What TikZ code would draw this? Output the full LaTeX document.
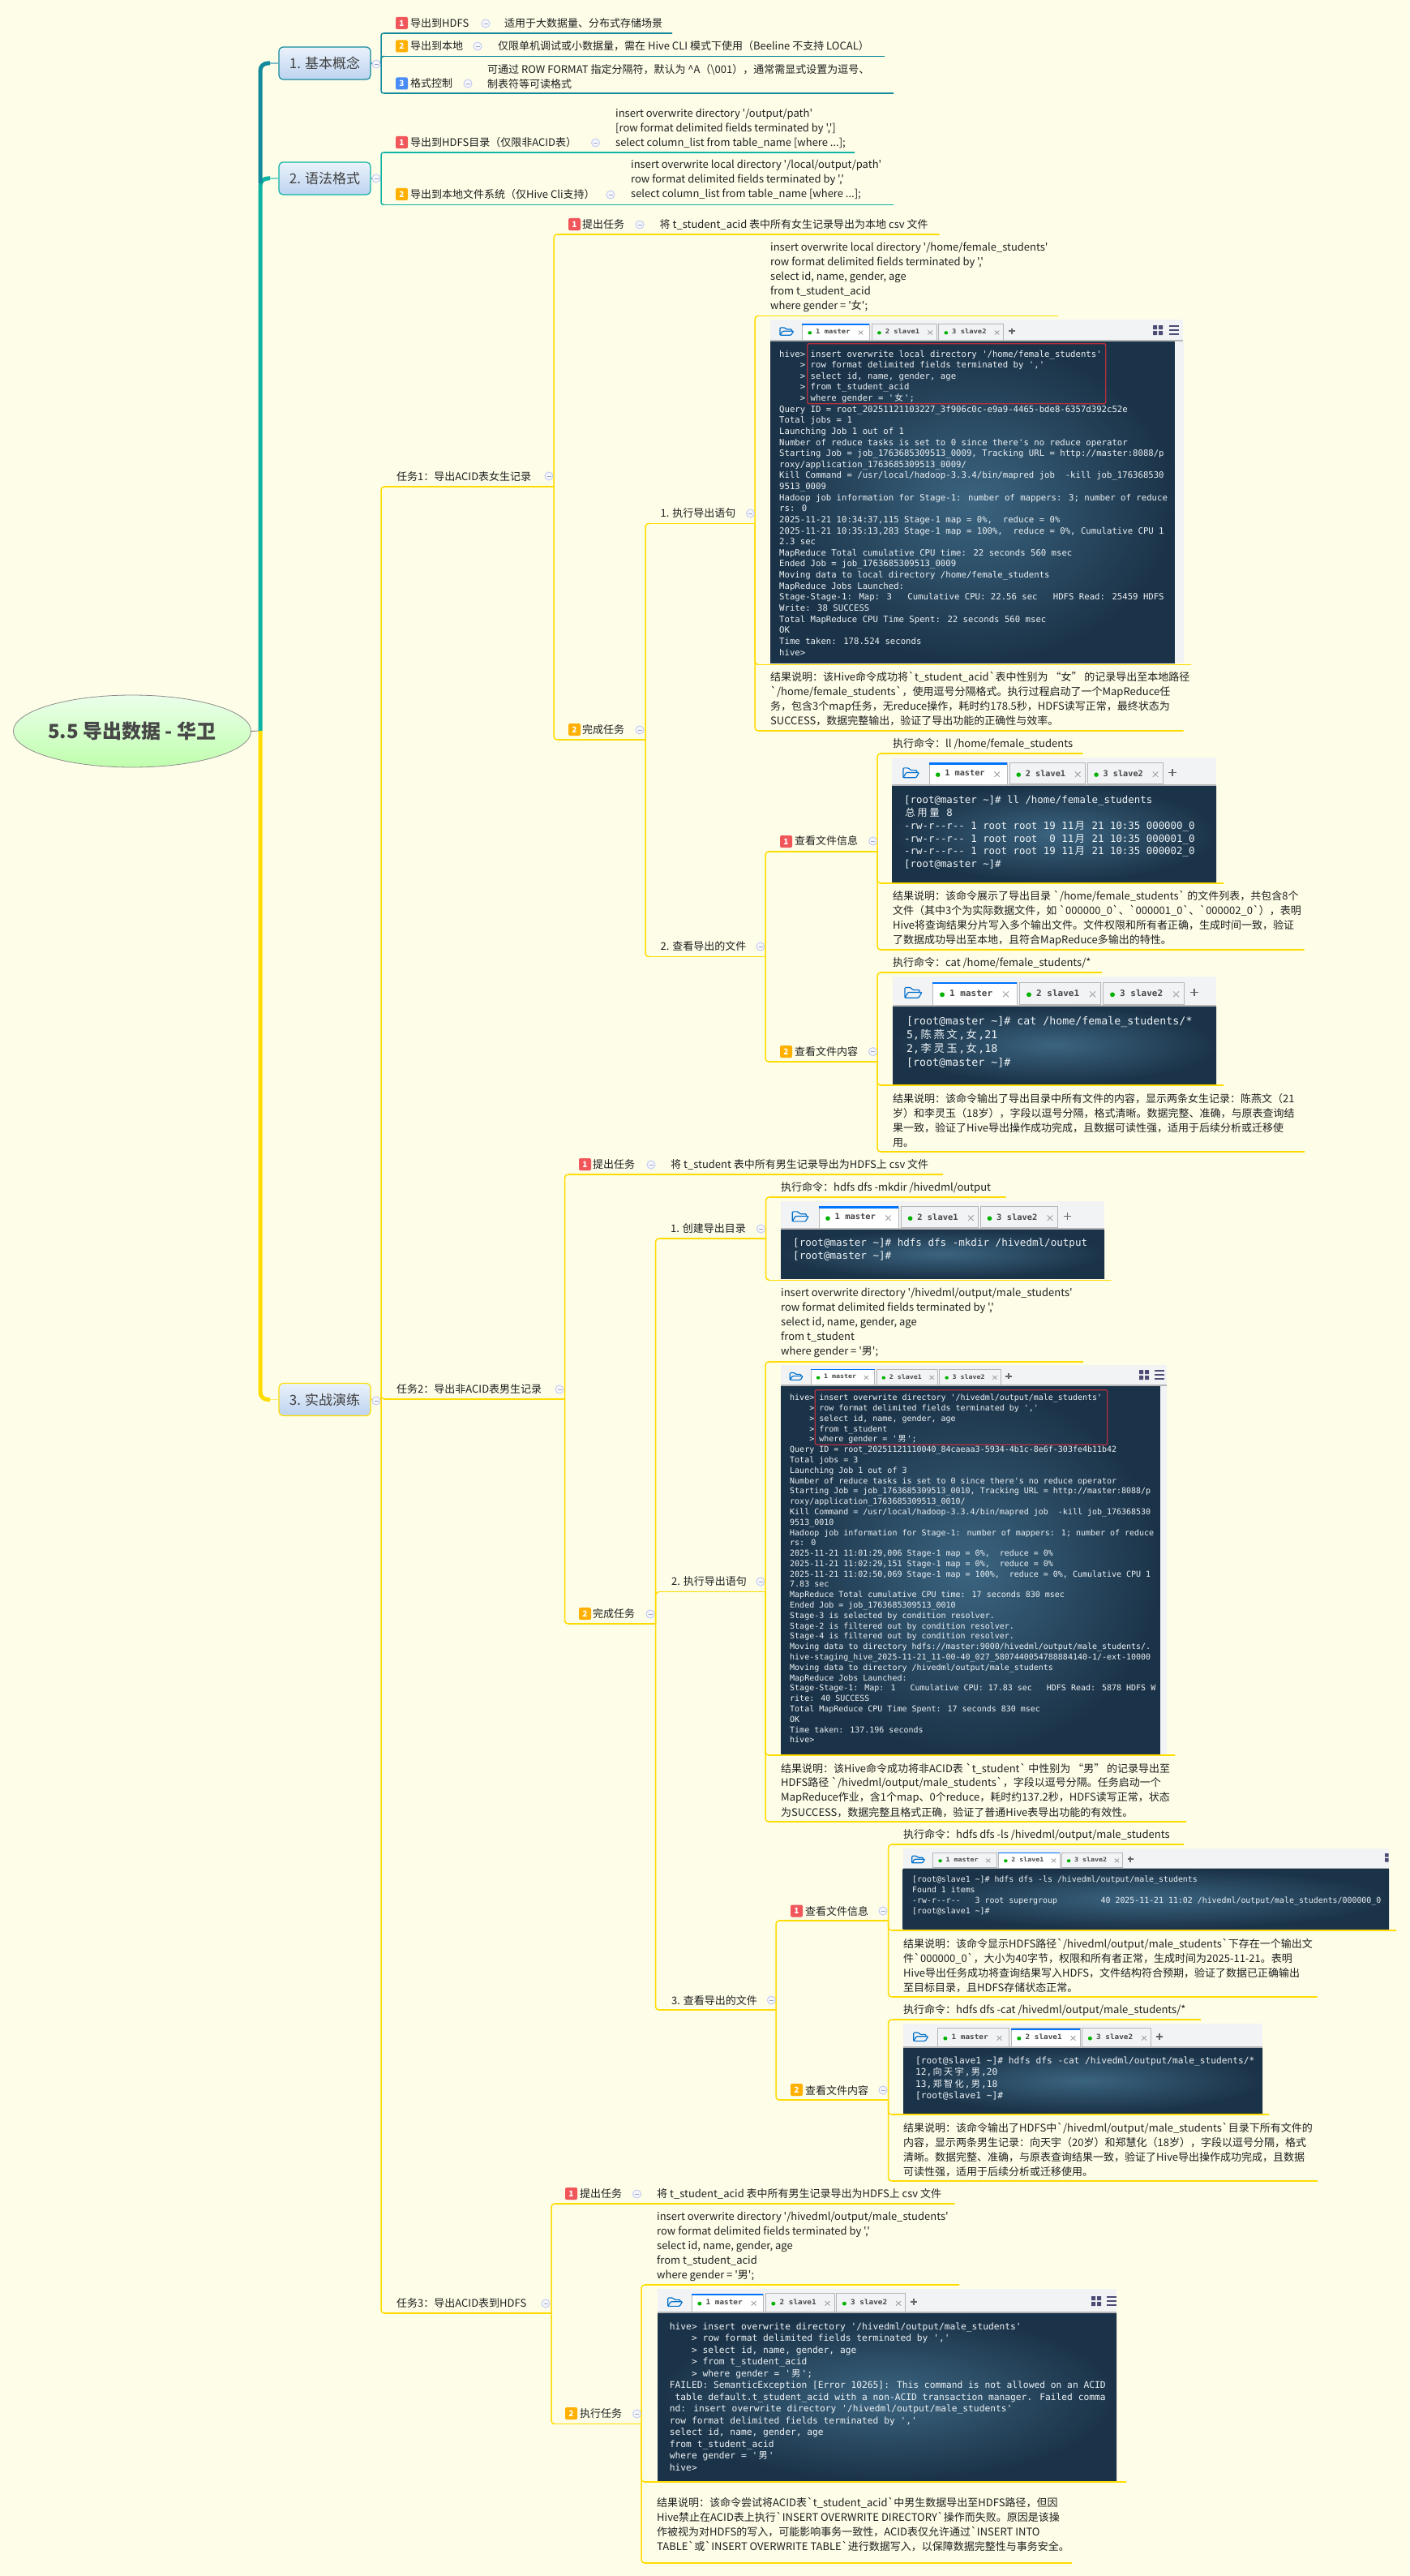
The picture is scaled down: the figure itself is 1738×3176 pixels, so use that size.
\documentclass[tikz,border=0pt]{standalone}
\usepackage{fontspec}
\usepackage{tikz}
\usetikzlibrary{shapes.geometric}
\newfontfamily\cnfont{Noto Sans CJK SC}
\newfontfamily\termfont{DejaVu Sans Mono}
\definecolor{paper}{HTML}{FEFDE8}
\definecolor{tealdark}{HTML}{128A9C}
\definecolor{tealmid}{HTML}{0DB3A3}
\definecolor{lineyel}{HTML}{FFDC00}
\definecolor{badgered}{HTML}{F0565A}
\definecolor{badgeorg}{HTML}{FFB000}
\definecolor{badgeblue}{HTML}{4A8CF5}
\definecolor{foldblue}{HTML}{C3CDF0}
\definecolor{tabbar}{HTML}{F2F3F5}
\definecolor{tabedge}{HTML}{B4B6B8}
\definecolor{termtxt}{HTML}{EEF3F6}
\definecolor{screenin}{HTML}{3B6480}
\definecolor{screenout}{HTML}{1B3348}
\definecolor{boxtop}{HTML}{EAF2FB}
\definecolor{boxbot}{HTML}{BDD3F0}
\definecolor{redmark}{HTML}{B5303F}
\tikzset{
  rowa/.style={draw=tealdark,line width=1.5,inner sep=0,outer sep=0,minimum height=0,anchor=west},
  rowb/.style={rowa,draw=tealmid},
  rowy/.style={rowa,draw=lineyel},
  topic/.style={anchor=west,inner sep=0,align=left,text=black!88,font=\cnfont\fontsize{13}{18}\selectfont},
  mainbox/.style={draw=#1,line width=1.2,rounded corners=5,top color=boxtop,bottom color=boxbot,
    minimum width=113,minimum height=40,inner sep=0,text=black!75,font=\cnfont\fontsize{17}{20}\selectfont},
  badge/.style={fill=#1,rounded corners=2,minimum size=15,inner sep=0,text=white,font=\cnfont\bfseries\fontsize{10}{10}\selectfont},
  fold/.style={circle,draw=foldblue,fill=blue!3!white,line width=1,minimum size=10,inner sep=0,
    path picture={\draw[foldblue!80!black,line width=.8] (-2.5,0) -- (2.5,0);}},
  screen/.style={anchor=north west,inner sep=0,outer sep=0,inner color=screenin,outer color=screenout},
  termtext/.style 2 args={anchor=west,inner sep=0,align=left,text=termtxt,font=\termfont\fontsize{#1}{#2}\selectfont},
  redbox/.style={draw=redmark,line width=1.4,rounded corners=1.5,anchor=north west,inner sep=0},
  tablabel/.style={anchor=west,inner sep=0,text=black!72,font=\termfont\bfseries\fontsize{11}{11}\selectfont},
}
\newcommand{\cj}[1]{\makebox[1.204em]{\cnfont #1}}
\newcommand{\prm}[1]{[root@#1 \textasciitilde]\#}
% tab strip of a terminal shot: name, x, y, width, xscale, yscale, active tab
\newcommand{\termtabs}[7]{
  \begin{scope}[shift={(#2,#3)},xscale=#5,yscale=#6,transform shape]
    \fill[tabbar] (0,0) rectangle (#4/#5,36);
    \draw[tabedge,line width=1.8] (0,37) -- (#4/#5,37);
    \draw[blue!45!cyan!80!black,line width=1.2,rounded corners=1] (15,27) -- (15,14) -- (22,14) -- (25,17) -- (33,17) -- (33,20);
    \draw[blue!45!cyan!80!black,line width=1.2,rounded corners=1] (15,27) -- (19,20) -- (36,20) -- (32,27) -- cycle;
    \foreach \tx/\tw/\tn/\ti in {49/104/1 master/1,156/100/2 slave1/2,259/100/3 slave2/3}{
      \ifnum\ti=#7
        \node[fill=white,draw=tabedge,line width=.6,minimum width=\tw,minimum height=29,inner sep=0,anchor=north west] (#1tab\ti) at (\tx,7) {};
        \fill[blue!55!cyan] (\tx,7) rectangle (\tx+\tw,9.5);
      \else
        \node[fill=tabbar,draw=tabedge,line width=.8,minimum width=\tw,minimum height=28,inner sep=0,anchor=north west] (#1tab\ti) at (\tx,7) {};
      \fi
      \fill[green!70!black] (\tx+12,23) circle (3);
      \node[tablabel] (#1lab\ti) at (\tx+21,21) {\tn};
      \draw[black!40,line width=.8] (\tx+87,19) -- (\tx+94,26) (\tx+94,19) -- (\tx+87,26);
    }
    \draw[black!60,line width=1.8] (367,20) -- (377,20) (372,15) -- (372,25);
  \end{scope}
}
% grid and list icons at the right end of the strip
\newcommand{\termmenu}[3]{
  \fill[black!60!blue!40!gray] (#1-6,#2-6) rectangle (#1-1,#2-1) (#1+1,#2-6) rectangle (#1+6,#2-1)
    (#1-6,#2+1) rectangle (#1-1,#2+6) (#1+1,#2+1) rectangle (#1+6,#2+6);
  \draw[black!60!blue!40!gray,line width=1.2] (#1+#3-6,#2-5) -- (#1+#3+6,#2-5) (#1+#3-6,#2) -- (#1+#3+6,#2) (#1+#3-6,#2+5) -- (#1+#3+6,#2+5);
}
\begin{document}
\catcode`\_=12
\begin{tikzpicture}[x=1pt,y=-1pt]
\fill[paper] (0,0) rectangle (1738,3176);
\useasboundingbox (0,0) rectangle (1738,3176);

% root and spine
\node[ellipse,draw=black!45,line width=.8,top color=green!8!white,bottom color=green!70!lime!32!white,minimum width=293,minimum height=89,inner sep=0,
  text=black!72,font=\cnfont\bfseries\fontsize{24}{28}\selectfont] (root) at (163,901.5) {5.5 导出数据 - 华卫};
\node[mainbox=tealdark] (n1) at (400.5,78) {1. 基本概念};
\node[mainbox=tealmid] (n2) at (400.5,220) {2. 语法格式};
\node[mainbox=lineyel] (n3) at (400.5,1725.5) {3. 实战演练};
\coordinate (hub) at (321,901);
\coordinate (k1) at (333,78);
\coordinate (k2) at (333,220);
\coordinate (k2up) at (321,226);
\coordinate (k3) at (333,1725.5);
\draw[black!55,line width=.8] (root.east) -- (hub);
\draw[tealmid,line width=5,rounded corners=9] (hub) |- (k2);
\draw[tealdark,line width=5,rounded corners=9] (k2up) |- (k1);
\draw[lineyel,line width=5,rounded corners=9] (hub) |- (k3);
\draw[tealdark!55,line width=1.5] (k1) -- (n1.west);
\draw[tealmid!55,line width=1.5] (k2) -- (n2.west);
\draw[lineyel!55,line width=1.5] (k3) -- (n3.west);

% underlines of all branches
\node[rowa,minimum width=355] (a1) at (474,41) {};
\node[rowa,minimum width=617] (a2) at (474,69.5) {};
\node[rowa,minimum width=628] (a3) at (474,115) {};
\node[rowb,minimum width=580] (b1) at (474,188) {};
\node[rowb,minimum width=628] (b2) at (474,252.5) {};
\node[rowy,minimum width=209] (t1) at (474,600) {};
\node[rowy,minimum width=222.5] (t2) at (474,1725) {};
\node[rowy,minimum width=206] (t3) at (474,2852) {};
\node[rowy,minimum width=471.5] (t1a) at (687,289) {};
\node[rowy,minimum width=109] (t1b) at (687,912) {};
\node[rowy,minimum width=131] (e1) at (800,645.5) {};
\node[rowy,minimum width=144] (e2) at (800,1179.6) {};
\node[rowy,minimum width=370] (e1a) at (935,389.5) {};
\node[rowy,minimum width=534] (e1b) at (935,819.4) {};
\node[rowy,minimum width=524.5] (e1c) at (935,901) {};
\node[rowy,minimum width=134] (e2a) at (948,1050) {};
\node[rowy,minimum width=134] (e2b) at (948,1309) {};
\node[rowy,minimum width=249.5] (f1a) at (1086,929) {};
\node[rowy,minimum width=423] (f1b) at (1086,1089) {};
\node[rowy,minimum width=522.5] (f1c) at (1086,1171) {};
\node[rowy,minimum width=273] (f2a) at (1086,1199) {};
\node[rowy,minimum width=423] (f2b) at (1086,1338) {};
\node[rowy,minimum width=523] (f2c) at (1086,1420) {};
\node[rowy,minimum width=462.5] (t2a) at (700.5,1448) {};
\node[rowy,minimum width=108] (t2b) at (700.5,2002) {};
\node[rowy,minimum width=132] (g1) at (812.6,1527) {};
\node[rowy,minimum width=131.4] (g2) at (812.6,1962.7) {};
\node[rowy,minimum width=144.4] (g3) at (812.6,2478) {};
\node[rowy,minimum width=292] (g1a) at (948.6,1476) {};
\node[rowy,minimum width=422] (g1b) at (948.6,1578.3) {};
\node[rowy,minimum width=388] (g2a) at (948,1679) {};
\node[rowy,minimum width=501] (g2b) at (948,2164) {};
\node[rowy,minimum width=515] (g2c) at (948,2246) {};
\node[rowy,minimum width=134.6] (g3a) at (961,2368) {};
\node[rowy,minimum width=134.6] (g3b) at (961,2589) {};
\node[rowy,minimum width=360.4] (h1a) at (1099.6,2274) {};
\node[rowy,minimum width=622.4] (h1b) at (1099.6,2380) {};
\node[rowy,minimum width=525] (h1c) at (1099.6,2462) {};
\node[rowy,minimum width=381.4] (h2a) at (1099.6,2490) {};
\node[rowy,minimum width=465.4] (h2b) at (1099.6,2607) {};
\node[rowy,minimum width=525.4] (h2c) at (1099.6,2689) {};
\node[rowy,minimum width=493.6] (t3a) at (684,2717) {};
\node[rowy,minimum width=107] (t3b) at (684,2988.5) {};
\node[rowy,minimum width=388] (k1r) at (795,2817) {};
\node[rowy,minimum width=594] (k2r) at (795,3060) {};
\node[rowy,minimum width=527] (k3r) at (795,3160) {};

% brackets
\coordinate (n1r) at (470,78);
\coordinate (n2r) at (470,220);
\coordinate (n3r) at (470,1725);
\draw[tealdark,line width=1.5] (n1.east) -- (n1r);
\draw[tealmid,line width=1.5] (n2.east) -- (n2r);
\draw[lineyel,line width=1.5] (n3.east) -- (n3r);
\foreach \c in {a1,a2,a3} \draw[tealdark,line width=1.5,rounded corners=3] (n1r) |- (\c.west);
\foreach \c in {b1,b2} \draw[tealmid,line width=1.5,rounded corners=3] (n2r) |- (\c.west);
\foreach \c in {t1,t2,t3} \draw[lineyel,line width=1.5,rounded corners=4] (n3r) |- (\c.west);
\foreach \p/\c in {t1/t1a,t1/t1b,t1b/e1,t1b/e2,e1/e1a,e1/e1b,e1/e1c,e2/e2a,e2/e2b,e2a/f1a,e2a/f1b,e2a/f1c,e2b/f2a,e2b/f2b,e2b/f2c,
  t2/t2a,t2/t2b,t2b/g1,t2b/g2,t2b/g3,g1/g1a,g1/g1b,g2/g2a,g2/g2b,g2/g2c,g3/g3a,g3/g3b,g3a/h1a,g3a/h1b,g3a/h1c,g3b/h2a,g3b/h2b,g3b/h2c,
  t3/t3a,t3/t3b,t3b/k1r,t3b/k2r,t3b/k3r}
  \draw[lineyel,line width=1.5,rounded corners=4] (\p.east) |- (\c.west);

% 1. and 2.
\node[badge=badgered] (a1n) at (495.5,28.5) {1};
\node[topic] (a1l) at (506,29) {导出到HDFS};
\node[topic] (a1t) at (622,29) {适用于大数据量、分布式存储场景};
\node[badge=badgeorg] (a2n) at (495.5,57) {2};
\node[topic] (a2l) at (506,57) {导出到本地};
\node[topic] (a2t) at (614,57) {仅限单机调试或小数据量，需在 Hive CLI 模式下使用（Beeline 不支持 LOCAL）};
\node[badge=badgeblue] (a3n) at (495.5,103) {3};
\node[topic] (a3l) at (506,103) {格式控制};
\node[topic] (a3t) at (601,94.5) {可通过 ROW FORMAT 指定分隔符，默认为 \textasciicircum A（\textbackslash 001），通常需显式设置为逗号、\\制表符等可读格式};
\node[badge=badgered] (b1n) at (495.5,175.5) {1};
\node[topic] (b1l) at (506,176) {导出到HDFS目录（仅限非ACID表）};
\node[topic] (b1t) at (759,159) {insert overwrite directory '/output/path'\\{[}row format delimited fields terminated by ',']\\select column_list from table_name [where ...];};
\node[badge=badgeorg] (b2n) at (495.5,239.5) {2};
\node[topic] (b2l) at (506,240) {导出到本地文件系统（仅Hive Cli支持）};
\node[topic] (b2t) at (778,222) {insert overwrite local directory '/local/output/path'\\row format delimited fields terminated by ','\\select column_list from table_name [where ...];};

% task 1
\node[topic] (t1l) at (489,588) {任务1：导出ACID表女生记录};
\node[badge=badgered] (t1an) at (708.5,276.5) {1};
\node[topic] (t1al) at (718,277) {提出任务};
\node[topic] (t1at) at (813.5,277) {将 t_student_acid 表中所有女生记录导出为本地 csv 文件};
\node[badge=badgeorg] (t1bn) at (708.5,899.5) {2};
\node[topic] (t1bl) at (718,900) {完成任务};
\node[topic] (e1l) at (814.5,633) {1. 执行导出语句};
\node[topic] (e1at) at (950,341.5) {insert overwrite local directory '/home/female_students'\\row format delimited fields terminated by ','\\select id, name, gender, age\\from t_student_acid\\where gender = '女';};
\termtabs{shota}{950}{394}{509}{.8}{.71}{1}
\termmenu{1428}{407}{20}
\node[screen,minimum width=499,minimum height=396] (shotab) at (950,421) {};
\fill[tabbar] (1449,421) rectangle (1459.5,817);
\node[termtext={10.65}{13.63}] (shotat) at (961,620) {hive> insert overwrite local directory '/home/female_students'\\~~~~> row format delimited fields terminated by ','\\~~~~> select id, name, gender, age\\~~~~> from t_student_acid\\~~~~> where gender = '\cj{女}';\\Query ID = root_20251121103227_3f906c0c-e9a9-4465-bde8-6357d392c52e\\Total jobs = 1\\Launching Job 1 out of 1\\Number of reduce tasks is set to 0 since there's no reduce operator\\Starting Job = job_1763685309513_0009, Tracking URL = http://master:8088/p\\roxy/application_1763685309513_0009/\\Kill Command = /usr/local/hadoop-3.3.4/bin/mapred job~~-kill job_176368530\\9513_0009\\Hadoop job information for Stage-1: number of mappers: 3; number of reduce\\rs: 0\\2025-11-21 10:34:37,115 Stage-1 map = 0\%,~~reduce = 0\%\\2025-11-21 10:35:13,283 Stage-1 map = 100\%,~~reduce = 0\%, Cumulative CPU 1\\2.3 sec\\MapReduce Total cumulative CPU time: 22 seconds 560 msec\\Ended Job = job_1763685309513_0009\\Moving data to local directory /home/female_students\\MapReduce Jobs Launched:\\Stage-Stage-1: Map: 3~~~Cumulative CPU: 22.56 sec~~~HDFS Read: 25459 HDFS\\Write: 38 SUCCESS\\Total MapReduce CPU Time Spent: 22 seconds 560 msec\\OK\\Time taken: 178.524 seconds\\hive>};
\node[redbox,minimum width=368,minimum height=74] (shotared) at (995,423) {};
\node[topic] (e1ct) at (950,862) {结果说明：该Hive命令成功将`t_student_acid`表中性别为 “女” 的记录导出至本地路径\\`/home/female_students`，使用逗号分隔格式。执行过程启动了一个MapReduce任\\务，包含3个map任务，无reduce操作，耗时约178.5秒，HDFS读写正常，最终状态为\\SUCCESS，数据完整输出，验证了导出功能的正确性与效率。};
\node[topic] (e2l) at (814.5,1167) {2. 查看导出的文件};
\node[badge=badgered] (e2an) at (969.5,1037.5) {1};
\node[topic] (e2al) at (980,1037) {查看文件信息};
\node[topic] (f1at) at (1101,917) {执行命令：ll /home/female_students};
\termtabs{shotb}{1100}{934}{400}{.93}{.92}{1}
\node[screen,minimum width=400,minimum height=118] (shotbb) at (1100,969) {};
\node[termtext={12.4}{15.8}] (shotbt) at (1115,1026.5) {\prm{master} ll /home/female_students\\\cj{总}\cj{用}\cj{量} 8\\-rw-r--r-- 1 root root 19 11\cj{月} 21 10:35 000000_0\\-rw-r--r-- 1 root root~~0 11\cj{月} 21 10:35 000001_0\\-rw-r--r-- 1 root root 19 11\cj{月} 21 10:35 000002_0\\\prm{master}};
\node[topic] (f1ct) at (1101,1132) {结果说明：该命令展示了导出目录 `/home/female_students` 的文件列表，共包含8个\\文件（其中3个为实际数据文件，如 `000000_0`、`000001_0`、`000002_0`），表明\\Hive将查询结果分片写入多个输出文件。文件权限和所有者正确，生成时间一致，验证\\了数据成功导出至本地，且符合MapReduce多输出的特性。};
\node[badge=badgeorg] (e2bn) at (969.5,1296.5) {2};
\node[topic] (e2bl) at (980,1296.5) {查看文件内容};
\node[topic] (f2at) at (1101,1187) {执行命令：cat /home/female_students/*};
\termtabs{shotc}{1101}{1204}{399}{1}{.97}{1}
\node[screen,minimum width=399,minimum height=95] (shotcb) at (1101,1241) {};
\node[termtext={13.3}{17.2}] (shotct) at (1118,1285) {\prm{master} cat /home/female_students/*\\5,\cj{陈}\cj{燕}\cj{文},\cj{女},21\\2,\cj{李}\cj{灵}\cj{玉},\cj{女},18\\\prm{master}};
\node[topic] (f2ct) at (1101,1381) {结果说明：该命令输出了导出目录中所有文件的内容，显示两条女生记录：陈燕文（21\\岁）和李灵玉（18岁），字段以逗号分隔，格式清晰。数据完整、准确，与原表查询结\\果一致，验证了Hive导出操作成功完成，且数据可读性强，适用于后续分析或迁移使\\用。};

% task 2
\node[topic] (t2l) at (489,1713) {任务2：导出非ACID表男生记录};
\node[badge=badgered] (t2an) at (721.5,1435.5) {1};
\node[topic] (t2al) at (731,1436) {提出任务};
\node[topic] (t2at) at (827,1436) {将 t_student 表中所有男生记录导出为HDFS上 csv 文件};
\node[badge=badgeorg] (t2bn) at (721.5,1989.5) {2};
\node[topic] (t2bl) at (731,1990) {完成任务};
\node[topic] (g1l) at (827,1515) {1. 创建导出目录};
\node[topic] (g1at) at (963,1464) {执行命令：hdfs dfs -mkdir /hivedml/output};
\termtabs{shotd}{963}{1481}{399}{.95}{.92}{1}
\node[screen,minimum width=399,minimum height=60] (shotdb) at (963,1516) {};
\node[termtext={12.56}{16}] (shotdt) at (978,1541) {\prm{master} hdfs dfs -mkdir /hivedml/output\\\prm{master}};
\node[topic] (g2l) at (828,1950) {2. 执行导出语句};
\node[topic] (g2at) at (963,1631) {insert overwrite directory '/hivedml/output/male_students'\\row format delimited fields terminated by ','\\select id, name, gender, age\\from t_student\\where gender = '男';};
\termtabs{shote}{963}{1683}{476}{.755}{.68}{1}
\termmenu{1411}{1695}{19}
\node[screen,minimum width=468,minimum height=453.5] (shoteb) at (963,1709) {};
\fill[tabbar] (1431,1709) rectangle (1439,2162.5);
\node[termtext={9.99}{12.79}] (shotet) at (974,1934) {hive> insert overwrite directory '/hivedml/output/male_students'\\~~~~> row format delimited fields terminated by ','\\~~~~> select id, name, gender, age\\~~~~> from t_student\\~~~~> where gender = '\cj{男}';\\Query ID = root_20251121110040_84caeaa3-5934-4b1c-8e6f-303fe4b11b42\\Total jobs = 3\\Launching Job 1 out of 3\\Number of reduce tasks is set to 0 since there's no reduce operator\\Starting Job = job_1763685309513_0010, Tracking URL = http://master:8088/p\\roxy/application_1763685309513_0010/\\Kill Command = /usr/local/hadoop-3.3.4/bin/mapred job~~-kill job_176368530\\9513_0010\\Hadoop job information for Stage-1: number of mappers: 1; number of reduce\\rs: 0\\2025-11-21 11:01:29,006 Stage-1 map = 0\%,~~reduce = 0\%\\2025-11-21 11:02:29,151 Stage-1 map = 0\%,~~reduce = 0\%\\2025-11-21 11:02:50,069 Stage-1 map = 100\%,~~reduce = 0\%, Cumulative CPU 1\\7.83 sec\\MapReduce Total cumulative CPU time: 17 seconds 830 msec\\Ended Job = job_1763685309513_0010\\Stage-3 is selected by condition resolver.\\Stage-2 is filtered out by condition resolver.\\Stage-4 is filtered out by condition resolver.\\Moving data to directory hdfs://master:9000/hivedml/output/male_students/.\\hive-staging_hive_2025-11-21_11-00-40_027_5807440054788884140-1/-ext-10000\\Moving data to directory /hivedml/output/male_students\\MapReduce Jobs Launched:\\Stage-Stage-1: Map: 1~~~Cumulative CPU: 17.83 sec~~~HDFS Read: 5878 HDFS W\\rite: 40 SUCCESS\\Total MapReduce CPU Time Spent: 17 seconds 830 msec\\OK\\Time taken: 137.196 seconds\\hive>};
\node[redbox,minimum width=360.5,minimum height=67.5] (shotered) at (1004.5,1713) {};
\node[topic] (g2ct) at (963,2207) {结果说明：该Hive命令成功将非ACID表 `t_student` 中性别为 “男” 的记录导出至\\HDFS路径 `/hivedml/output/male_students`，字段以逗号分隔。任务启动一个\\MapReduce作业，含1个map、0个reduce，耗时约137.2秒，HDFS读写正常，状态\\为SUCCESS，数据完整且格式正确，验证了普通Hive表导出功能的有效性。};
\node[topic] (g3l) at (828,2466) {3. 查看导出的文件};
\node[badge=badgered] (g3an) at (982.5,2356) {1};
\node[topic] (g3al) at (993,2356) {查看文件信息};
\node[topic] (h1at) at (1114,2262) {执行命令：hdfs dfs -ls /hivedml/output/male_students};
\termtabs{shotf}{1113.5}{2279}{599.5}{.755}{.66}{2}
\fill[black!60!blue!40!gray] (1708,2285) rectangle (1712.5,2289.5) (1708,2291) rectangle (1712.5,2295.5);
\node[screen,minimum width=599.5,minimum height=74] (shotfb) at (1113.5,2304) {};
\node[termtext={9.9}{12.7}] (shotft) at (1125,2337) {\prm{slave1} hdfs dfs -ls /hivedml/output/male_students\\Found 1 items\\-rw-r--r--~~~3 root supergroup~~~~~~~~~40 2025-11-21 11:02 /hivedml/output/male_students/000000_0\\\prm{slave1}};
\node[topic] (h1ct) at (1114,2423) {结果说明：该命令显示HDFS路径`/hivedml/output/male_students`下存在一个输出文\\件`000000_0`，大小为40字节，权限和所有者正常，生成时间为2025-11-21。表明\\Hive导出任务成功将查询结果写入HDFS，文件结构符合预期，验证了数据已正确输出\\至目标目录，且HDFS存储状态正常。};
\node[badge=badgeorg] (g3bn) at (982.5,2576.5) {2};
\node[topic] (g3bl) at (993,2577) {查看文件内容};
\node[topic] (h2at) at (1114,2478) {执行命令：hdfs dfs -cat /hivedml/output/male_students/*};
\termtabs{shotg}{1114}{2495}{443}{.85}{.79}{2}
\node[screen,minimum width=443,minimum height=80] (shotgb) at (1114,2525) {};
\node[termtext={11.2}{14.3}] (shotgt) at (1129,2562.5) {\prm{slave1} hdfs dfs -cat /hivedml/output/male_students/*\\12,\cj{向}\cj{天}\cj{宇},\cj{男},20\\13,\cj{郑}\cj{智}\cj{化},\cj{男},18\\\prm{slave1}};
\node[topic] (h2ct) at (1114,2650) {结果说明：该命令输出了HDFS中`/hivedml/output/male_students`目录下所有文件的\\内容，显示两条男生记录：向天宇（20岁）和郑慧化（18岁），字段以逗号分隔，格式\\清晰。数据完整、准确，与原表查询结果一致，验证了Hive导出操作成功完成，且数据\\可读性强，适用于后续分析或迁移使用。};

% task 3
\node[topic] (t3l) at (489,2840) {任务3：导出ACID表到HDFS};
\node[badge=badgered] (t3an) at (704.5,2704.5) {1};
\node[topic] (t3al) at (715,2705) {提出任务};
\node[topic] (t3at) at (810,2705) {将 t_student_acid 表中所有男生记录导出为HDFS上 csv 文件};
\node[badge=badgeorg] (t3bn) at (704.5,2975.5) {2};
\node[topic] (t3bl) at (715,2976) {执行任务};
\node[topic] (k1t) at (810,2770) {insert overwrite directory '/hivedml/output/male_students'\\row format delimited fields terminated by ','\\select id, name, gender, age\\from t_student_acid\\where gender = '男';};
\termtabs{shoth}{811}{2822}{566}{.85}{.79}{1}
\termmenu{1352}{2837}{19}
\node[screen,minimum width=566,minimum height=206] (shothb) at (811,2852) {};
\node[termtext={11.26}{14.5}] (shotht) at (825.7,2955) {hive> insert overwrite directory '/hivedml/output/male_students'\\~~~~> row format delimited fields terminated by ','\\~~~~> select id, name, gender, age\\~~~~> from t_student_acid\\~~~~> where gender = '\cj{男}';\\FAILED: SemanticException [Error 10265]: This command is not allowed on an ACID\\~table default.t_student_acid with a non-ACID transaction manager. Failed comma\\nd: insert overwrite directory '/hivedml/output/male_students'\\row format delimited fields terminated by ','\\select id, name, gender, age\\from t_student_acid\\where gender = '\cj{男}'\\hive>};
\node[topic] (k3t) at (810,3112) {结果说明：该命令尝试将ACID表`t_student_acid`中男生数据导出至HDFS路径，但因\\Hive禁止在ACID表上执行`INSERT OVERWRITE DIRECTORY`操作而失败。原因是该操\\作被视为对HDFS的写入，可能影响事务一致性，ACID表仅允许通过`INSERT INTO\\TABLE`或`INSERT OVERWRITE TABLE`进行数据写入，以保障数据完整性与事务安全。};

% fold marks
\foreach \x/\y [count=\i] in {464/79,464/220,464/1727,599/29,589/57,577/103,734.5/176,753/240,677/587,690/1713,673/2840,
  789/277,789/900,925.5/633,938/1167,1076.6/1037,1076.6/1296.6,803/1436,802/1990,938.5/1515,938/1950,951.4/2466,1089/2356,1089/2577,785.5/2705,785.5/2976}
  \node[fold] (fold\i) at (\x,\y) {};
\end{tikzpicture}
\end{document}
